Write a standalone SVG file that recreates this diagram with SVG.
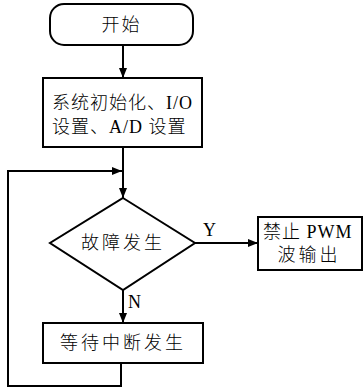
<svg xmlns="http://www.w3.org/2000/svg" width="363" height="391" viewBox="0 0 363 391">
<style>
.n{fill:#fff;stroke:#000;stroke-width:2}
.t{font-family:"Liberation Serif","Noto Sans CJK SC",serif;font-size:18px;font-weight:300;fill:#000}
.c{fill:none;stroke:#000;stroke-width:2}
</style>
<defs>
<marker id="a" markerWidth="10" markerHeight="8" refX="10" refY="4" orient="auto" markerUnits="userSpaceOnUse">
<path d="M0,0 L10,4 L0,8 z" fill="#000"/>
</marker>
</defs>
<g id="connectors">
<path class="c" d="M123,45 V78" marker-end="url(#a)"/>
<path class="c" d="M123,147 V198" marker-end="url(#a)"/>
<path class="c" d="M121,363 V386 H8 V171 H122" marker-end="url(#a)"/>
<path class="c" d="M195,243 H258" marker-end="url(#a)"/>
<path class="c" d="M123,290 V323" marker-end="url(#a)"/>
<text class="t" x="203" y="236">Y</text>
<text class="t" x="128" y="308">N</text>
</g>
<g id="start">
<rect class="n" x="50" y="4" width="143" height="41" rx="14"/>
<text class="t" x="121.5" y="31" text-anchor="middle" letter-spacing="2">开始</text>
</g>
<g id="init">
<rect class="n" x="43" y="78" width="159" height="69"/>
<text class="t" x="52" y="109" letter-spacing="1">系统初始化、I/O</text>
<text class="t" x="52" y="133" letter-spacing="1">设置、A/D 设置</text>
</g>
<g id="fault">
<path class="n" d="M123,198 L195,243 L123,290 L50,243 Z"/>
<text class="t" x="123" y="249" text-anchor="middle" letter-spacing="3">故障发生</text>
</g>
<g id="stop">
<rect class="n" x="258" y="217" width="104" height="53"/>
<text class="t" x="263" y="238" letter-spacing="1">禁止 PWM</text>
<text class="t" x="309" y="261" text-anchor="middle" letter-spacing="3">波输出</text>
</g>
<g id="wait">
<rect class="n" x="43" y="323" width="160" height="40"/>
<text class="t" x="123" y="349" text-anchor="middle" letter-spacing="3">等待中断发生</text>
</g>
</svg>
